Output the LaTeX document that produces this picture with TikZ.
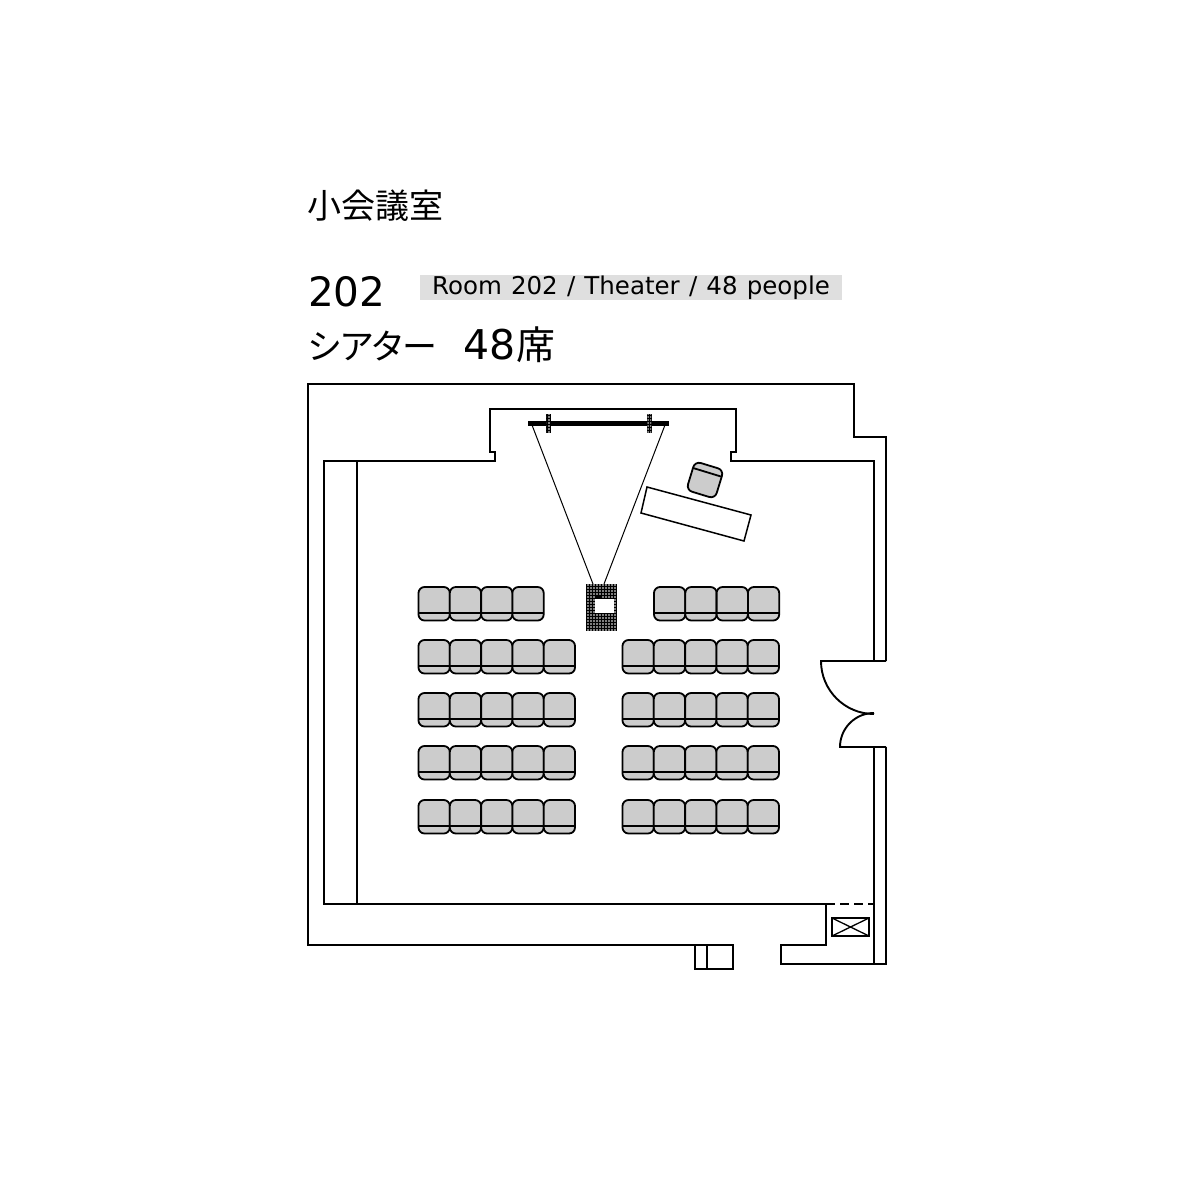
\documentclass[tikz,border=0pt]{standalone}
\usepackage{fontspec}
\setmainfont{DejaVu Sans}
\newfontfamily\cjk{Noto Sans CJK JP}
\newfontfamily\cjktight[LetterSpace=-9]{Noto Sans CJK JP}
\usetikzlibrary{patterns.meta}
\definecolor{seatgray}{gray}{0.8}
\definecolor{bargray}{gray}{0.875}
\tikzset{
  wall/.style={line width=1.9pt, line join=miter},
  seat/.style={draw, fill=seatgray, line width=1.8pt, rounded corners=6pt},
  dotted fill/.style={draw=black, line width=0.8pt, fill=black, postaction={pattern={Dots[distance=3pt,radius=0.85pt]}, pattern color=white}},
  title/.style={anchor=base west, inner sep=0pt}
}
\begin{document}
\begin{tikzpicture}[x=1pt,y=-1pt]
  \useasboundingbox (0,0) rectangle (1200,1200);

  % Headings
  \node[title, font={\cjk\fontsize{34}{34}\selectfont}] (roomname) at (307,218) {小会議室};
  \node[title, font=\fontsize{40.5}{41}\selectfont] (roomno) at (308,306.5) {202};
  \node[fill=bargray, minimum width=422pt, minimum height=25pt, inner sep=0pt, font=\fontsize{24.5}{25}\selectfont] (caption) at (631,287.5) {\spaceskip=9.2pt\raisebox{-0.5pt}{Room 202 / Theater / 48 people}};
  \node[title, font={\cjktight\fontsize{35}{35}\selectfont}] (layout) at (307,359) {シアター};
  \node[title, font=\fontsize{41}{41}\selectfont] (seatcount) at (463,359) {48\kern1pt{\cjk\fontsize{39}{39}\selectfont 席}};

  % Outer walls
  \draw[wall] (886,661) -- (886,437) -- (854,437) -- (854,384) -- (308,384) -- (308,945)
    -- (695,945) -- (695,969) -- (733,969) -- (733,945) -- (695,945);
  \draw[wall] (707,945) -- (707,969);
  \draw[wall] (886,747) -- (886,964) -- (781,964) -- (781,945) -- (826,945) -- (826,904);

  % Inner walls
  \draw[wall] (874,661) -- (874,461) -- (731,461) -- (731,452) -- (736,452) -- (736,409)
    -- (490,409) -- (490,452) -- (495,452) -- (495,461) -- (324,461) -- (324,904) -- (826,904);
  \draw[wall] (357,461) -- (357,904);
  \draw[wall] (874,747) -- (874,964);
  \draw[wall, dash pattern=on 9pt off 5pt] (826,904) -- (874,904);

  % Door
  \draw[wall] (886,661) -- (821,661) arc[start angle=180, end angle=270, radius=53pt];
  \draw[wall] (886,747) -- (840,747) arc[start angle=180, end angle=90, radius=34pt];

  % Shaft
  \draw[wall, line width=1.6pt] (832,918) rectangle (869,936);
  \draw[line width=1.3pt] (832,918) -- (869,936) (832,936) -- (869,918);

  % Projection lines
  \draw[line width=1pt] (532,425) -- (593,584);
  \draw[line width=1pt] (665,425) -- (604,584);

  % Screen
  \fill[black] (528,421) rectangle (669,425.5);
  \path[dotted fill] (546.5,414.5) rectangle (550,432.5);
  \path[dotted fill] (647.5,414.5) rectangle (651,432.5);

  % Projector
  \path[dotted fill] (586,584) rectangle (616,630);
  \fill[white] (595,599) rectangle (614,613);
  \fill[black] (596,596) rectangle (602,599);

  % Lectern table and chair
  \draw[line width=1.5pt, line join=miter] (647,487) -- (751,515) -- (744,541) -- (641,513) -- cycle;
  \begin{scope}[shift={(705,480)}, rotate=-17]
    \draw[seat] (-15,-15) rectangle (15,15);
    \draw[line width=1.8pt] (-15,-8) -- (15,-8);
  \end{scope}

  % Seats
  \foreach \y in {640,693,746,800} {
    \foreach \x in {0,...,4} {
      \draw[seat] (418.5+\x*31.3,\y) rectangle ++(31.3,33.5);
      \draw[line width=1.8pt] (418.5+\x*31.3,\y+26) -- ++(31.3,0);
      \draw[seat] (622.5+\x*31.3,\y) rectangle ++(31.3,33.5);
      \draw[line width=1.8pt] (622.5+\x*31.3,\y+26) -- ++(31.3,0);
    }
  }
  \foreach \x in {0,...,3} {
    \draw[seat] (418.5+\x*31.3,587) rectangle ++(31.3,33.5);
    \draw[line width=1.8pt] (418.5+\x*31.3,613) -- ++(31.3,0);
    \draw[seat] (654+\x*31.3,587) rectangle ++(31.3,33.5);
    \draw[line width=1.8pt] (654+\x*31.3,613) -- ++(31.3,0);
  }
\end{tikzpicture}
\end{document}
